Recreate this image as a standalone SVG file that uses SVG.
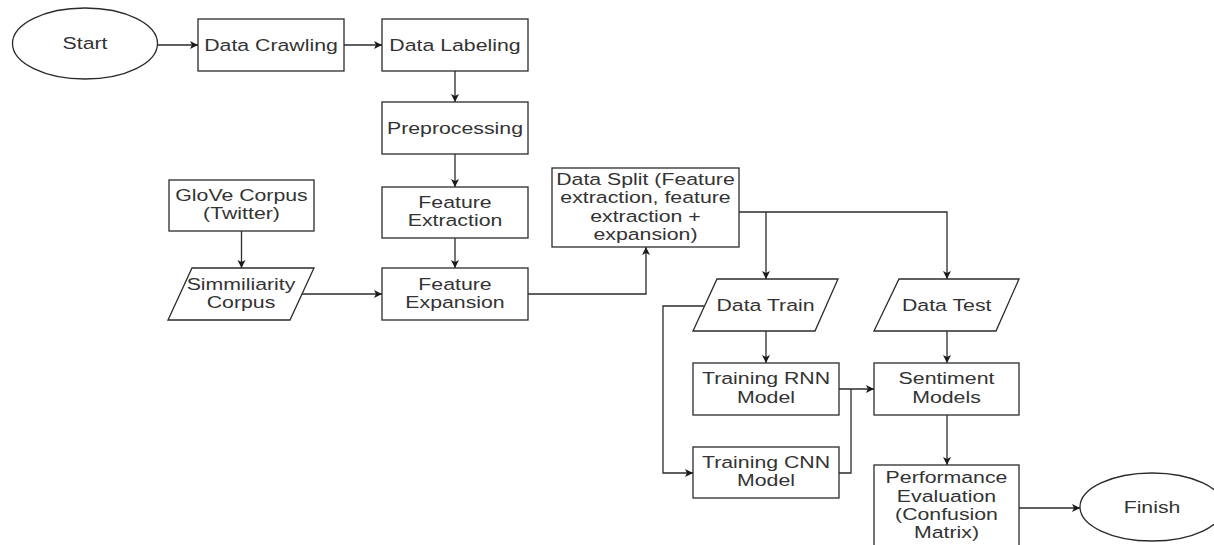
<svg xmlns="http://www.w3.org/2000/svg" width="1214" height="545" viewBox="0 0 1214 545">
  <style>
    .box { fill: #ffffff; stroke: #2b2b2b; stroke-width: 1.3; }
    .edge { fill: none; stroke: #2b2b2b; stroke-width: 1.3; }
    .arr { marker-end: url(#head); }
    text { font-family: "Liberation Sans", Arial, sans-serif; font-size: 16.5px; fill: #333333; text-anchor: middle; }
  </style>
  <defs>
    <marker id="head" markerUnits="userSpaceOnUse" markerWidth="10" markerHeight="9" refX="8" refY="4" orient="auto">
      <path d="M0,0 L8,4 L0,8 L2,4 Z" fill="#1a1a1a"/>
    </marker>
  </defs>
  <rect width="1214" height="545" fill="#ffffff"/>

  <!-- connectors -->
  <g id="connectors">
    <path class="edge arr" d="M157,45 H198"/>
    <path class="edge arr" d="M344,45 H382"/>
    <path class="edge arr" d="M455,71 V102"/>
    <path class="edge arr" d="M455,154 V187"/>
    <path class="edge arr" d="M455,238 V268"/>
    <path class="edge arr" d="M241.5,231 V268"/>
    <path class="edge arr" d="M302,294 H382"/>
    <path class="edge arr" d="M528,294 H646 V247"/>
    <path class="edge arr" d="M739,212 H947 V279"/>
    <path class="edge arr" d="M766,212 V279"/>
    <path class="edge arr" d="M766,331 V363"/>
    <path class="edge arr" d="M704,306 H663 V473 H693"/>
    <path class="edge arr" d="M839,389 H874"/>
    <path class="edge" d="M839,473 H851 V389"/>
    <path class="edge arr" d="M947,331 V363"/>
    <path class="edge arr" d="M947,415 V465"/>
    <path class="edge arr" d="M1019,508 H1080"/>
  </g>

  <!-- nodes -->
  <g id="start">
    <ellipse class="box" cx="85" cy="43.5" rx="72.5" ry="35.5"/>
    <text transform="translate(85 0) scale(1.29 1)" x="0" y="49.5">Start</text>
  </g>
  <g id="data-crawling">
    <rect class="box" x="198" y="19" width="146" height="52"/>
    <text transform="translate(271 0) scale(1.29 1)" x="0" y="51">Data Crawling</text>
  </g>
  <g id="data-labeling">
    <rect class="box" x="382" y="19" width="146" height="52"/>
    <text transform="translate(455 0) scale(1.29 1)" x="0" y="51">Data Labeling</text>
  </g>
  <g id="preprocessing">
    <rect class="box" x="382" y="102" width="146" height="52"/>
    <text transform="translate(455 0) scale(1.29 1)" x="0" y="134">Preprocessing</text>
  </g>
  <g id="feature-extraction">
    <rect class="box" x="382" y="187" width="146" height="51"/>
    <text transform="translate(455 0) scale(1.29 1)"><tspan x="0" y="208">Feature</tspan><tspan x="0" y="226.5">Extraction</tspan></text>
  </g>
  <g id="feature-expansion">
    <rect class="box" x="382" y="268" width="146" height="52"/>
    <text transform="translate(455 0) scale(1.29 1)"><tspan x="0" y="290">Feature</tspan><tspan x="0" y="308.5">Expansion</tspan></text>
  </g>
  <g id="glove-corpus">
    <rect class="box" x="169" y="180" width="145" height="51"/>
    <text transform="translate(241.5 0) scale(1.29 1)"><tspan x="0" y="201">GloVe Corpus</tspan><tspan x="0" y="219.5">(Twitter)</tspan></text>
  </g>
  <g id="similarity-corpus">
    <polygon class="box" points="192,268 314,268 290,320 168,320"/>
    <text transform="translate(241 0) scale(1.29 1)"><tspan x="0" y="290">Simmiliarity</tspan><tspan x="0" y="308.5">Corpus</tspan></text>
  </g>
  <g id="data-split">
    <rect class="box" x="552" y="168" width="187" height="79"/>
    <text transform="translate(645.5 0) scale(1.29 1)"><tspan x="0" y="185">Data Split (Feature</tspan><tspan x="0" y="203.3">extraction, feature</tspan><tspan x="0" y="221.6">extraction +</tspan><tspan x="0" y="239.9">expansion)</tspan></text>
  </g>
  <g id="data-train">
    <polygon class="box" points="717,279 838,279 815,331 693,331"/>
    <text transform="translate(765.5 0) scale(1.29 1)" x="0" y="311">Data Train</text>
  </g>
  <g id="data-test">
    <polygon class="box" points="899,279 1019,279 996,331 874,331"/>
    <text transform="translate(946.7 0) scale(1.29 1)" x="0" y="311">Data Test</text>
  </g>
  <g id="training-rnn">
    <rect class="box" x="693" y="363" width="146" height="52"/>
    <text transform="translate(766 0) scale(1.29 1)"><tspan x="0" y="384.5">Training RNN</tspan><tspan x="0" y="403">Model</tspan></text>
  </g>
  <g id="training-cnn">
    <rect class="box" x="693" y="447" width="146" height="51"/>
    <text transform="translate(766 0) scale(1.29 1)"><tspan x="0" y="468">Training CNN</tspan><tspan x="0" y="486.5">Model</tspan></text>
  </g>
  <g id="sentiment-models">
    <rect class="box" x="874" y="363" width="145" height="52"/>
    <text transform="translate(946.5 0) scale(1.29 1)"><tspan x="0" y="384.5">Sentiment</tspan><tspan x="0" y="403">Models</tspan></text>
  </g>
  <g id="performance-evaluation">
    <rect class="box" x="874" y="465" width="145" height="90"/>
    <text transform="translate(946.5 0) scale(1.29 1)"><tspan x="0" y="483.3">Performance</tspan><tspan x="0" y="501.6">Evaluation</tspan><tspan x="0" y="519.9">(Confusion</tspan><tspan x="0" y="538.2">Matrix)</tspan></text>
  </g>
  <g id="finish">
    <ellipse class="box" cx="1152" cy="507" rx="72" ry="34"/>
    <text transform="translate(1152 0) scale(1.29 1)" x="0" y="513">Finish</text>
  </g>
</svg>
